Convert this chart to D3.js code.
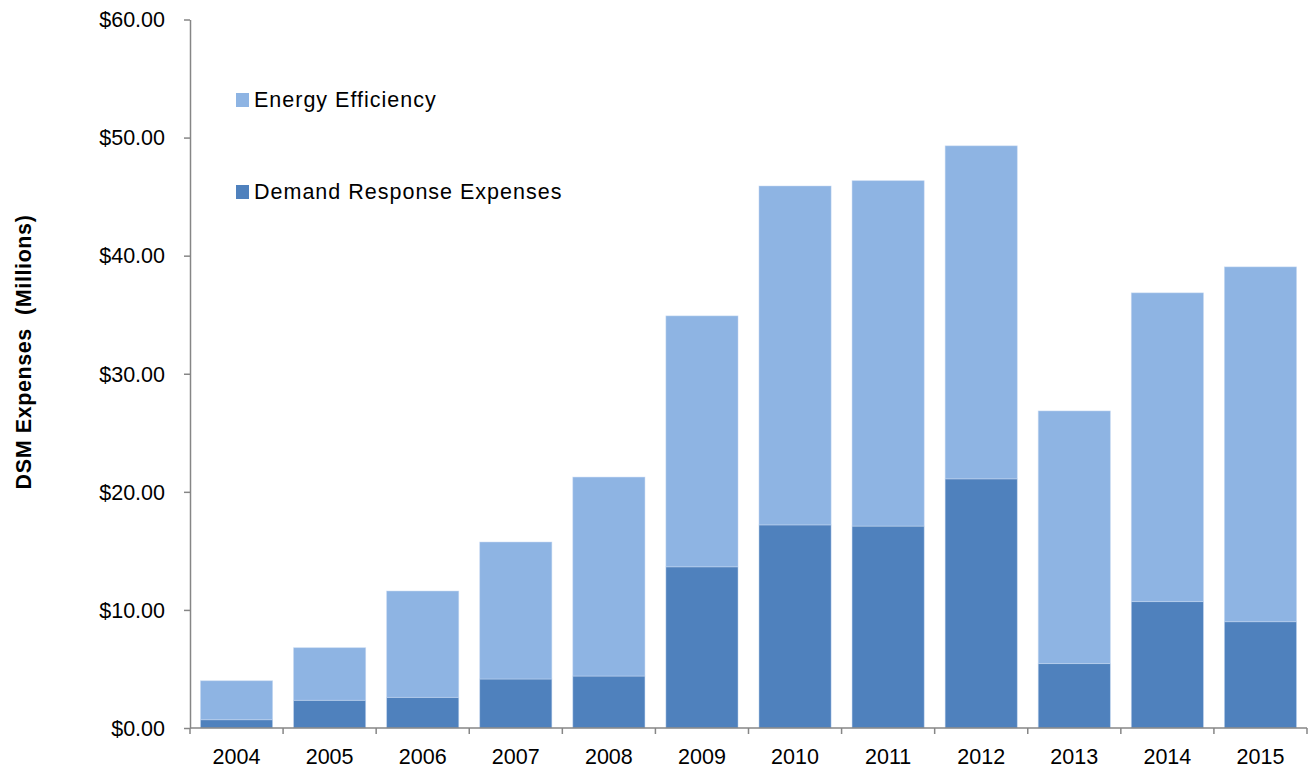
<!DOCTYPE html>
<html>
<head>
<meta charset="utf-8">
<script src="https://cdn.jsdelivr.net/npm/d3@7/dist/d3.min.js"></script>
<style>
  html, body { margin: 0; padding: 0; background: #fff; }
  svg { display: block; font-family: "Liberation Sans", Arial, sans-serif; }
</style>
</head>
<body>
<svg id="chart" width="1312" height="769"></svg>
<script>
// DSM expenses by year, in millions of dollars
const years = ["2004", "2005", "2006", "2007", "2008", "2009", "2010", "2011", "2012", "2013", "2014", "2015"];
const demandResponse = [0.7, 2.35, 2.6, 4.15, 4.4, 13.65, 17.2, 17.1, 21.1, 5.45, 10.7, 9.0];
const energyEfficiency = [3.3, 4.45, 9.0, 11.6, 16.85, 21.25, 28.7, 29.25, 28.2, 21.4, 26.15, 30.05];
const yTicks = [0, 10, 20, 30, 40, 50, 60];
const seriesNames = ["Energy Efficiency", "Demand Response Expenses"];
const seriesColors = { "Demand Response Expenses": "#4F81BD", "Energy Efficiency": "#8EB4E3" };

const svg = d3.select("#chart");
const margin = { left: 190, right: 5, top: 19.5, bottom: 41 };
const W = 1312, H = 769;
const fontSize = 21.5;

const rows = years.map((y, i) => ({
  year: y,
  "Demand Response Expenses": demandResponse[i],
  "Energy Efficiency": energyEfficiency[i]
}));

const stack = d3.stack().keys(["Demand Response Expenses", "Energy Efficiency"]);
const stacked = stack(rows);

const x = d3.scaleBand()
  .domain(years)
  .range([margin.left, 1307])
  .paddingInner(0.225)
  .paddingOuter(0.1125);

const y = d3.scaleLinear()
  .domain([0, 60])
  .range([H - margin.bottom, margin.top]);

// Bars
svg.append("g")
  .selectAll("g")
  .data(stacked)
  .join("g")
  .attr("fill", d => seriesColors[d.key])
  .selectAll("rect")
  .data(d => d)
  .join("rect")
  .attr("x", d => x(d.data.year))
  .attr("width", x.bandwidth())
  .attr("y", d => y(d[1]))
  .attr("height", d => y(d[0]) - y(d[1]))
  .attr("stroke", "#C6D9F1")
  .attr("stroke-opacity", 0.6)
  .attr("stroke-width", 0.8);

// Y axis
const yAxis = svg.append("g")
  .attr("transform", `translate(${margin.left},0)`)
  .call(d3.axisLeft(y).tickValues(yTicks).tickSize(6).tickSizeOuter(0)
    .tickFormat(d => "$" + d3.format(".2f")(d)));
yAxis.select(".domain").attr("stroke", "#868686").attr("stroke-width", 1.5);
yAxis.selectAll(".tick line").attr("stroke", "#868686").attr("stroke-width", 1.5);
yAxis.selectAll(".tick text")
  .attr("x", -25)
  .attr("dy", "0.34em")
  .attr("font-size", fontSize)
  .attr("fill", "#000")
  .attr("font-family", "Liberation Sans, Arial, sans-serif");

// X axis with tick marks at category boundaries
const xBase = y(0);
const xg = svg.append("g");
xg.append("line")
  .attr("x1", margin.left).attr("x2", 1307)
  .attr("y1", xBase).attr("y2", xBase)
  .attr("stroke", "#868686").attr("stroke-width", 1.5);
const boundaries = d3.range(years.length + 1).map(i => margin.left + i * (1307 - margin.left) / years.length);
xg.selectAll("line.bnd")
  .data(boundaries)
  .join("line")
  .attr("class", "bnd")
  .attr("x1", d => d).attr("x2", d => d)
  .attr("y1", xBase).attr("y2", xBase + 6)
  .attr("stroke", "#868686").attr("stroke-width", 1.5);
xg.selectAll("text")
  .data(years)
  .join("text")
  .attr("x", d => x(d) + x.bandwidth() / 2)
  .attr("y", xBase + 36)
  .attr("text-anchor", "middle")
  .attr("font-size", fontSize)
  .attr("fill", "#000")
  .text(d => d);

// Y axis title
svg.append("text")
  .attr("transform", "translate(31,352) rotate(-90)")
  .attr("text-anchor", "middle")
  .attr("font-size", 21.5)
  .attr("font-weight", "bold")
  .attr("letter-spacing", 0.6)
  .attr("fill", "#000")
  .attr("xml:space", "preserve")
  .style("white-space", "pre")
  .text("DSM Expenses  (Millions)");

// Legend
const legend = svg.append("g");
const legendBaseline = [107, 199];
seriesNames.forEach((name, i) => {
  legend.append("rect")
    .attr("x", 236).attr("y", legendBaseline[i] - 14)
    .attr("width", 13).attr("height", 14)
    .attr("fill", seriesColors[name]);
  legend.append("text")
    .attr("x", 254).attr("y", legendBaseline[i])
    .attr("font-size", fontSize)
    .attr("letter-spacing", 1)
    .attr("fill", "#000")
    .text(name);
});
</script>
</body>
</html>
